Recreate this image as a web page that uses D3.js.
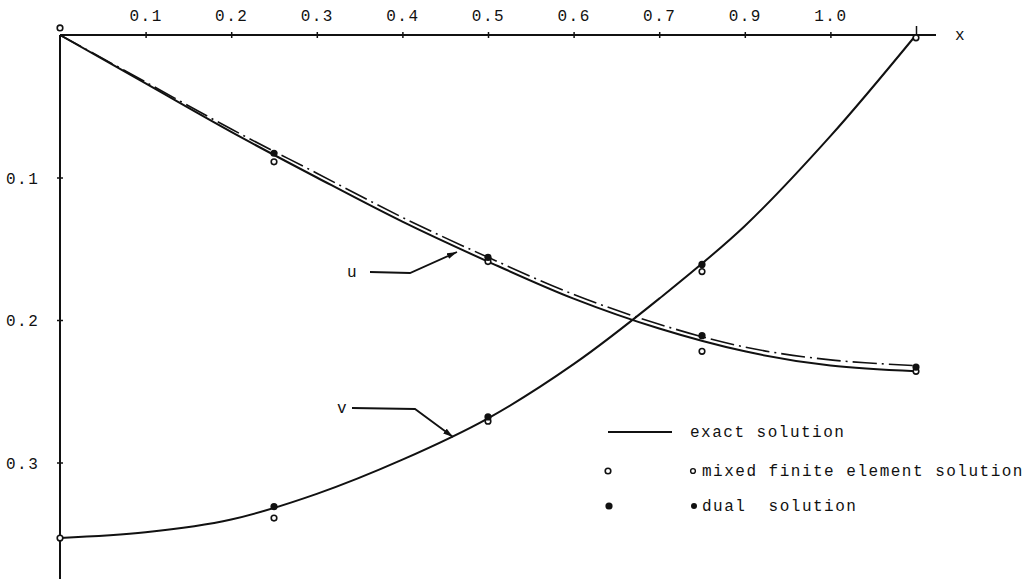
<!DOCTYPE html>
<html>
<head>
<meta charset="utf-8">
<script src="https://cdn.jsdelivr.net/npm/d3@7"></script>
<style>
  body { margin: 0; background: #fff; }
  text { font-family: 'Liberation Mono', 'DejaVu Sans Mono', monospace; font-size: 16px; letter-spacing: 1.5px; fill: #111; white-space: pre; }
</style>
</head>
<body>
<svg></svg>
<script>
'use strict';

// data
var xTicks = [0.1, 0.2, 0.3, 0.4, 0.5, 0.6, 0.7, 0.8, 0.9, 1.0];
var xTickLabels = ['0.1', '0.2', '0.3', '0.4', '0.5', '0.6', '0.7', '0.9', '1.0', ''];
var yTicks = [0.1, 0.2, 0.3];
var yTickLabels = ['0.1', '0.2', '0.3'];

var gridX = [0, 0.1, 0.2, 0.3, 0.4, 0.5, 0.6, 0.7, 0.8, 0.9, 1.0];
var uExact = [0, 0.034, 0.068, 0.100, 0.131, 0.159, 0.185, 0.206, 0.222, 0.232, 0.236];
var uDashed = [0, 0.033, 0.066, 0.097, 0.128, 0.156, 0.182, 0.203, 0.219, 0.228, 0.232];
var vExact = [0.353, 0.349, 0.340, 0.322, 0.298, 0.269, 0.231, 0.185, 0.134, 0.071, 0.0];

var mixedU = [[0, -0.005], [0.25, 0.089], [0.5, 0.159], [0.75, 0.222], [1.0, 0.236]];
var dualU = [[0.25, 0.083], [0.5, 0.156], [0.75, 0.211], [1.0, 0.233]];
var mixedV = [[0, 0.353], [0.25, 0.339], [0.5, 0.271], [0.75, 0.166], [1.0, 0.002]];
var dualV = [[0.25, 0.331], [0.5, 0.268], [0.75, 0.161]];

var legendItems = ['exact solution', 'mixed finite element solution', 'dual  solution'];

var SVG_SIZE = {width: 1032, height: 579};

var svg = d3.select('svg')
  .attr('width', SVG_SIZE.width).attr('height', SVG_SIZE.height);

var xScale = d3.scaleLinear().domain([0, 1]).range([60, 916]);
var yScale = d3.scaleLinear().domain([0, 0.1]).range([35, 177.5]);

// axes
var xAxis = d3.axisTop(xScale)
  .tickValues(xTicks)
  .tickSizeInner(3).tickSizeOuter(0).tickPadding(11)
  .tickFormat(function(d, i){ return xTickLabels[i]; });
var gx = svg.append('g')
  .attr('transform', 'translate(0,' + yScale(0) + ')')
  .call(xAxis);
gx.select('.domain').remove();
gx.selectAll('.tick line').attr('stroke', '#111').attr('stroke-width', 1.5)
  .attr('y1', 3).attr('y2', function(d){ return d === 1 ? -9 : -3; });
gx.selectAll('.tick text').attr('fill', '#111');

var yAxis = d3.axisLeft(yScale)
  .tickValues(yTicks)
  .tickSizeInner(3).tickSizeOuter(0)
  .tickFormat(function(d, i){ return yTickLabels[i]; });
var gy = svg.append('g')
  .attr('transform', 'translate(' + xScale(0) + ',0)')
  .call(yAxis);
gy.select('.domain').remove();
gy.selectAll('.tick line').attr('stroke', '#111').attr('stroke-width', 1.5)
  .attr('x1', -3).attr('x2', 3);
gy.selectAll('.tick text').attr('fill', '#111')
  .attr('text-anchor', 'start').attr('x', -54).attr('dy', '0.35em');
gx.attr('font-size', null).attr('font-family', null);
gy.attr('font-size', null).attr('font-family', null);

// axis lines
svg.append('line')
  .attr('x1', xScale(0)).attr('x2', xScale(1) + 20)
  .attr('y1', yScale(0)).attr('y2', yScale(0))
  .attr('stroke', '#111').attr('stroke-width', 2);
svg.append('line')
  .attr('x1', xScale(0)).attr('x2', xScale(0))
  .attr('y1', yScale(0)).attr('y2', SVG_SIZE.height)
  .attr('stroke', '#111').attr('stroke-width', 2);
svg.append('text').text('x')
  .attr('x', xScale(1) + 39).attr('y', yScale(0) + 5);

// curves
var line = d3.line()
  .x(function(d){ return xScale(d[0]); })
  .y(function(d){ return yScale(d[1]); })
  .curve(d3.curveCatmullRom);

function zipCurve(vals) {
  return gridX.map(function(x, i){ return [x, vals[i]]; });
}

svg.append('path').datum(zipCurve(uDashed))
  .attr('d', line).attr('fill', 'none')
  .attr('stroke', '#111').attr('stroke-width', 1.6)
  .attr('stroke-dasharray', '24,5,2,5');
svg.append('path').datum(zipCurve(uExact))
  .attr('d', line).attr('fill', 'none')
  .attr('stroke', '#111').attr('stroke-width', 2);
svg.append('path').datum(zipCurve(vExact))
  .attr('d', line).attr('fill', 'none')
  .attr('stroke', '#111').attr('stroke-width', 2);

// points
function drawOpen(data) {
  svg.append('g').selectAll('circle').data(data).enter().append('circle')
    .attr('cx', function(d){ return xScale(d[0]); })
    .attr('cy', function(d){ return yScale(d[1]); })
    .attr('r', 2.8)
    .attr('fill', '#fff').attr('stroke', '#111').attr('stroke-width', 1.6);
}
function drawFilled(data) {
  svg.append('g').selectAll('circle').data(data).enter().append('circle')
    .attr('cx', function(d){ return xScale(d[0]); })
    .attr('cy', function(d){ return yScale(d[1]); })
    .attr('r', 3.6)
    .attr('fill', '#111');
}
drawOpen(mixedU);
drawOpen(mixedV);
drawFilled(dualU);
drawFilled(dualV);

// labels with arrows
svg.append('defs').append('marker')
  .attr('id', 'arrow').attr('viewBox', '0 0 10 6')
  .attr('refX', 10).attr('refY', 3)
  .attr('markerWidth', 10).attr('markerHeight', 6)
  .attr('markerUnits', 'userSpaceOnUse')
  .attr('orient', 'auto')
  .append('path').attr('d', 'M0,0 L10,3 L0,6 Z').attr('fill', '#111');

var annotations = [
  {label: 'u', tx: 347, ty: 277, pts: [[370, 272], [410, 273], [457, 252]]},
  {label: 'v', tx: 337, ty: 413, pts: [[352, 408], [415, 409], [453, 437]]}
];
annotations.forEach(function(a){
  svg.append('text').text(a.label).attr('x', a.tx).attr('y', a.ty);
  svg.append('path')
    .attr('d', d3.line()(a.pts))
    .attr('fill', 'none').attr('stroke', '#111').attr('stroke-width', 1.8)
    .attr('marker-end', 'url(#arrow)');
});

// legend
var legend = svg.append('g');
legend.append('line')
  .attr('x1', 608).attr('x2', 672).attr('y1', 432).attr('y2', 432)
  .attr('stroke', '#111').attr('stroke-width', 1.8);
legend.append('text').text(legendItems[0]).attr('x', 690).attr('y', 437);

legend.append('circle').attr('cx', 608).attr('cy', 471).attr('r', 2.8)
  .attr('fill', '#fff').attr('stroke', '#111').attr('stroke-width', 1.6);
legend.append('circle').attr('cx', 693).attr('cy', 471).attr('r', 2.4)
  .attr('fill', '#fff').attr('stroke', '#111').attr('stroke-width', 1.4);
legend.append('text').text(legendItems[1]).attr('x', 702).attr('y', 476);

legend.append('circle').attr('cx', 609).attr('cy', 506).attr('r', 3.6).attr('fill', '#111');
legend.append('circle').attr('cx', 694).attr('cy', 506).attr('r', 3).attr('fill', '#111');
legend.append('text').text(legendItems[2]).attr('x', 702).attr('y', 511);
</script>
</body>
</html>
